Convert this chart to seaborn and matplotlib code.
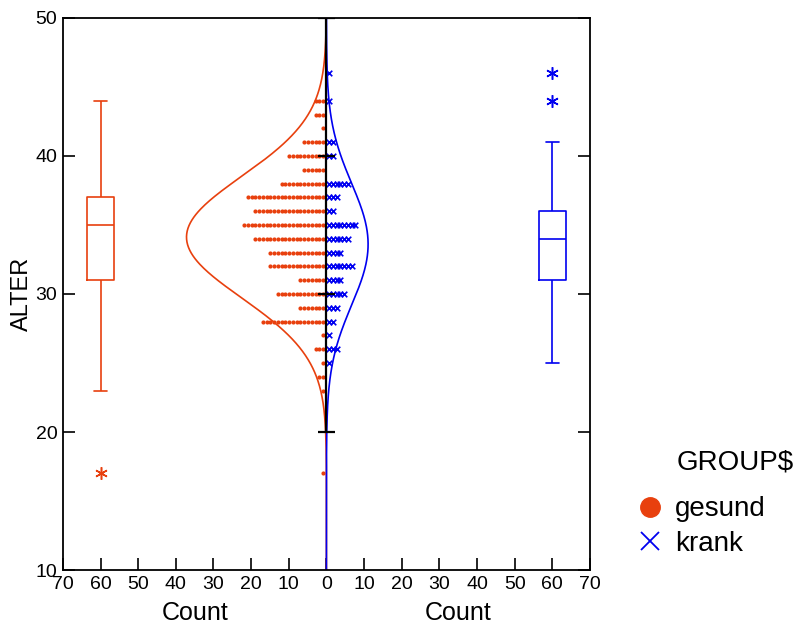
import numpy as np
import pandas as pd
import seaborn as sns
import matplotlib.pyplot as plt
from matplotlib.lines import Line2D
from matplotlib.transforms import blended_transform_factory

sns.set_style("white")
plt.rcParams["font.family"] = ["Liberation Sans", "DejaVu Sans"]
plt.rcParams["text.color"] = "black"
plt.rcParams["axes.labelcolor"] = "black"
plt.rcParams["xtick.color"] = "black"
plt.rcParams["ytick.color"] = "black"

RED = "#E8400E"
BLUE = "#0000F0"

# dot histogram counts (one dot per person)
gesund_ages = [44, 43, 42, 41, 40, 39, 38, 37, 36, 35, 34, 33, 32, 31, 30, 29, 28, 27, 26, 25, 24, 23, 17]
gesund_counts = [3, 3, 1, 6, 10, 6, 12, 21, 19, 22, 19, 15, 15, 7, 13, 7, 17, 1, 3, 1, 2, 1, 1]
krank_ages = [46, 44, 41, 40, 38, 37, 36, 35, 34, 33, 32, 31, 30, 29, 28, 27, 26, 25]
krank_counts = [1, 1, 2, 2, 6, 3, 2, 8, 6, 4, 7, 4, 5, 3, 2, 1, 3, 1]

x_ticks = list(range(-70, 71, 10))
y_ticks = [10, 20, 30, 40, 50]

colors = {"gesund": RED, "krank": BLUE}
box_pos = {"gesund": -60, "krank": 60}

# expand to one row per person
rows = []
for g, ages, counts in [("gesund", gesund_ages, gesund_counts),
                        ("krank", krank_ages, krank_counts)]:
    for a, c in zip(ages, counts):
        for k in range(1, c + 1):
            rows.append({"group": g, "ALTER": a, "rank": k})
df = pd.DataFrame(rows)
df["dotx"] = np.where(df["group"] == "gesund", -(df["rank"] - 0.1), df["rank"] - 0.3)
df["pos"] = df["group"].map(box_pos)

fig, ax = plt.subplots(figsize=(8.06, 6.33), dpi=100)
fig.subplots_adjust(left=0.078, right=0.732, bottom=0.0995, top=0.9716)

# normal curves fitted to each group
yy = np.linspace(10, 50, 400)
for g, side in [("gesund", -1), ("krank", 1)]:
    v = df.loc[df["group"] == g, "ALTER"]
    m, s, n = v.mean(), v.std(), len(v)
    dens = 2 * n * np.exp(-0.5 * ((yy - m) / s) ** 2) / (s * np.sqrt(2 * np.pi))
    sns.lineplot(x=side * dens, y=yy, sort=False, estimator=None,
                 color=colors[g], lw=1.2, ax=ax)

# dots / crosses
sns.scatterplot(data=df[df["group"] == "gesund"], x="dotx", y="ALTER", color=RED,
                marker="o", s=9, linewidth=0, legend=False, ax=ax)
sns.scatterplot(data=df[df["group"] == "krank"], x="dotx", y="ALTER", color=BLUE,
                marker="x", s=16, linewidth=1.2, legend=False, ax=ax)

# box plots in the outer area
sns.boxplot(data=df, x="pos", y="ALTER", hue="group", palette=colors,
            native_scale=True, orient="x", fill=False, dodge=False,
            width=7 / 120, linewidth=1.2, whis=1.5,
            flierprops=dict(marker=(6, 2, 0), markersize=9, markeredgewidth=1.1),
            legend=False, ax=ax)

# centre axis
ax.vlines(0, 20, 50, color="black", lw=1.6, zorder=5)
ax.hlines([20, 30, 40, 50], -2.2, 2.2, color="black", lw=1.6, zorder=5)

ax.set_xlim(-70, 70)
ax.set_ylim(10, 50)
ax.set_xticks(x_ticks)
ax.set_xticklabels([str(abs(t)) for t in x_ticks])
ax.set_yticks(y_ticks)
ax.tick_params(direction="in", length=8.6, width=1.2, labelsize=14, pad=4,
               colors="black")
ax.tick_params(axis="y", left=True, right=True)
ax.tick_params(axis="x", bottom=True, top=False)
for sp in ax.spines.values():
    sp.set_color("black")
    sp.set_linewidth(1.3)

ax.set_xlabel("")
ax.set_ylabel("ALTER", fontsize=17, labelpad=2)
tr = blended_transform_factory(ax.transData, ax.transAxes)
for xc in (-35, 35):
    ax.text(xc, -0.078, "Count", transform=tr, ha="center", va="center", fontsize=18)

handles = [Line2D([], [], marker="o", color=RED, ls="", markersize=14),
           Line2D([], [], marker="x", color=BLUE, ls="", markersize=13, markeredgewidth=1.3)]
fig.legend(handles, ["gesund", "krank"], loc="center left", bbox_to_anchor=(0.789, 0.168),
           frameon=False, fontsize=20, handlelength=1.0, handletextpad=0.4,
           labelspacing=0.3, borderpad=0, borderaxespad=0)
fig.text(0.839, 0.27, "GROUP$", fontsize=20, va="center", ha="left")

fig.savefig("out.png", dpi=100)
